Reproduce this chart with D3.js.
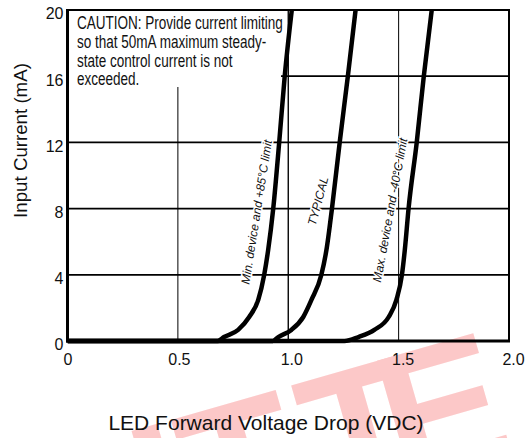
<!DOCTYPE html>
<html><head><meta charset="utf-8">
<script src="https://cdn.jsdelivr.net/npm/d3@7"></script>
<style>body{margin:0;background:#fff}svg{display:block}</style>
</head><body><svg id="c" width="529" height="438"></svg>
<script>
const xTicks = [0, 0.5, 1.0, 1.5, 2.0];
const xTickLabels = ["0", "0.5", "1.0", "1.5", "2.0"];
const yTicks = [0, 4, 8, 12, 16, 20];
const yTickLabels = ["0", "4", "8", "12", "16", "20"];
const currentMA  = [0, 0,    0.24,  0.67,  1.45,  2.48,  4,     5.5,   8,     12,    16,    20];
const minDeviceV = [0, 0.68, 0.709, 0.773, 0.823, 0.864, 0.891, 0.909, 0.932, 0.959, 0.984, 1.016];
const typicalV   = [0, 0.93, 0.955, 1.014, 1.068, 1.105, 1.15,  1.173, 1.198, 1.233, 1.27,  1.305];
const maxDeviceV = [0, 1.255,1.318, 1.39,  1.455, 1.49,  1.515, 1.528, 1.545, 1.582, 1.614, 1.65];
const seriesLabels = ["Min. device and +85°C limit", "TYPICAL", "Max. device and -40°C limit"];
const cautionLines = ["CAUTION: Provide current limiting", "so that 50mA maximum steady-", "state control current is not", "exceeded."];
const xTitle = "LED Forward Voltage Drop (VDC)";
const yTitle = "Input Current (mA)";
const watermarkLetters = ["L", "I", "T", "T", "E"];

const svg = d3.select("#c");
const F = "'Liberation Sans', Arial, sans-serif";
svg.append("rect").attr("width",529).attr("height",438).attr("fill","#fff");

// watermark (partially visible, as in the reference)
svg.append("text")
  .attr("transform","translate(46,588) rotate(-16)")
  .attr("font-family",F).attr("font-weight","bold").attr("font-size",185)
  .attr("fill","#fcc8c8")
  .selectAll("tspan").data(watermarkLetters).join("tspan")
  .attr("dx", (d,i) => [0,0,0,12,-34][i]).text(d => d);

const x = d3.scaleLinear().domain([0, 2]).range([67.5, 509]);
const y = d3.scaleLinear().domain([0, 20]).range([341, 10]);

// grid
const g = svg.append("g");
g.selectAll(".hg").data(yTicks.filter(d => d > 0 && d < 20)).join("line")
  .attr("x1", x(0)).attr("x2", x(2)).attr("y1", d => y(d)).attr("y2", d => y(d))
  .attr("stroke","#000").attr("stroke-width",1.8);
g.selectAll(".vg").data(xTicks.filter(d => d > 0 && d < 2)).join("line")
  .attr("x1", d => x(d)).attr("x2", d => x(d)).attr("y1", y(0)).attr("y2", y(20))
  .attr("stroke","#000").attr("stroke-width",1);

// caution box (white) covering grid
svg.append("rect").attr("x", x(0)+1.5).attr("y", y(20)+1).attr("width", 212).attr("height", 76).attr("fill","#fff");
svg.append("line").attr("x1", x(1)).attr("x2", x(1)).attr("y1", y(0)).attr("y2", y(20))
  .attr("stroke","#000").attr("stroke-width",1);

// curves
const series = [minDeviceV, typicalV, maxDeviceV];
const line = d3.line().x(d => x(d[0])).y(d => y(d[1])).curve(d3.curveMonotoneX);
svg.append("defs").append("clipPath").attr("id","clip").append("rect")
  .attr("x", x(0)).attr("y", y(20)).attr("width", x(2)-x(0)).attr("height", y(0)-y(20)+3);
svg.append("g").attr("clip-path","url(#clip)").selectAll("path").data(series).join("path")
  .attr("d", s => line(s.map((v,i) => [v, currentMA[i]])))
  .attr("fill","none").attr("stroke","#000").attr("stroke-width",4.5).attr("stroke-linejoin","round");

// frame
svg.append("line").attr("x1", x(0)).attr("x2", x(0)).attr("y1", y(20)-1).attr("y2", y(0)+1.5).attr("stroke","#000").attr("stroke-width",3);
svg.append("line").attr("x1", x(0)-1.5).attr("x2", x(2)+1).attr("y1", y(0)).attr("y2", y(0)).attr("stroke","#000").attr("stroke-width",3);
svg.append("line").attr("x1", x(0)).attr("x2", x(2)+1).attr("y1", y(20)).attr("y2", y(20)).attr("stroke","#000").attr("stroke-width",2);
svg.append("line").attr("x1", x(2)).attr("x2", x(2)).attr("y1", y(20)).attr("y2", y(0)).attr("stroke","#000").attr("stroke-width",2);

// curve labels
const labelPos = [[256.5, 212, -81], [318, 201, -75], [390, 210, -79.5]];
svg.selectAll(".cl").data(seriesLabels).join("text")
  .text(d => d)
  .attr("transform", (d,i) => `translate(${labelPos[i][0]},${labelPos[i][1]}) rotate(${labelPos[i][2]})`)
  .attr("text-anchor","middle").attr("dy","0.35em")
  .attr("font-family",F).attr("font-style","italic").attr("font-size",12)
  .attr("fill","#111").attr("stroke","#fff").attr("stroke-width",3).attr("paint-order","stroke");

// caution text
const ct = svg.append("g");
const baselines = [29.3, 48, 66.7, 85.4];
const texts = ct.selectAll("text").data(cautionLines).join("text")
  .text(d => d).attr("font-family",F).attr("font-size",17.5).attr("fill","#111");
const w0 = texts.node().getComputedTextLength();
const sx = 206 / w0;
texts.attr("transform", (d,i) => `translate(77,${baselines[i]}) scale(${sx},1)`);

// axes
const xa = svg.append("g").attr("transform", `translate(0,${y(0)})`)
  .call(d3.axisBottom(x).tickValues(xTicks).tickFormat((d,i) => xTickLabels[i]).tickSize(0).tickPadding(0));
xa.select(".domain").remove();
xa.selectAll("text").attr("font-family",F).attr("font-size",16).attr("fill","#111")
  .attr("dy", null).attr("y", 24).attr("dx", (d,i) => [0,1,3,4,4][i]);

const ya = svg.append("g").attr("transform", `translate(${x(0)},0)`)
  .call(d3.axisLeft(y).tickValues(yTicks).tickFormat((d,i) => yTickLabels[i]).tickSize(0).tickPadding(4));
ya.select(".domain").remove();
ya.selectAll("text").attr("font-family",F).attr("font-size",16).attr("fill","#111").attr("dy","0.55em");

// titles
svg.append("text").text(xTitle).attr("x", 266).attr("y", 430).attr("text-anchor","middle")
  .attr("font-family",F).attr("font-size",21).attr("fill","#111");
svg.append("text").text(yTitle).attr("transform","translate(27,140.5) rotate(-90)").attr("text-anchor","middle")
  .attr("font-family",F).attr("font-size",18.7).attr("fill","#111");
</script></body></html>
